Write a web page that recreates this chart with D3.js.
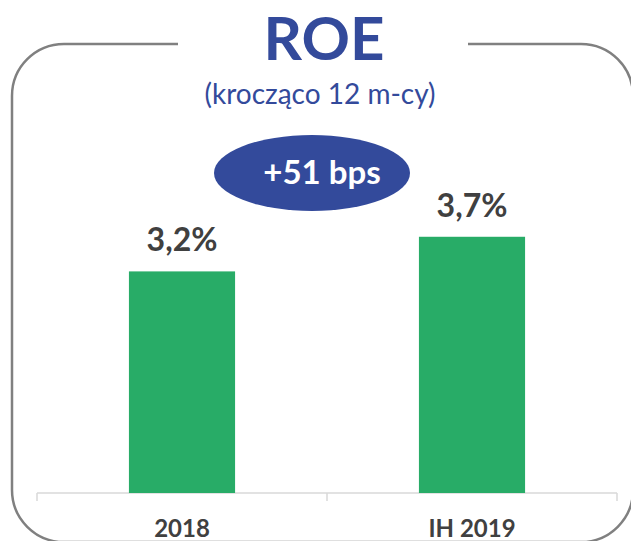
<!DOCTYPE html>
<html>
<head>
<meta charset="utf-8">
<script src="https://cdn.jsdelivr.net/npm/d3@7.9.0/dist/d3.min.js"></script>
<style>
  body { margin: 0; background: #fff; }
  svg { display: block; font-family: Lato, "Open Sans", sans-serif; }
</style>
</head>
<body>
<svg id="chart" width="631" height="541"></svg>
<script>
const categories = ["2018", "IH 2019"];
const values = [3.2, 3.7];
const valueLabels = ["3,2%", "3,7%"];
const title = "ROE";
const subtitle = "(krocząco 12 m-cy)";
const badge = "+51 bps";

const svg = d3.select("#chart");
const blue = "#334a9b";

// frame with a gap for the title
const fx0 = 12, fx1 = 633, fy0 = 44, fy1 = 542, r = 52;
const gapL = 178, gapR = 468;
const framePath = `M${gapL},${fy0} L${fx0 + r},${fy0} A${r},${r} 0 0 0 ${fx0},${fy0 + r}
  L${fx0},${fy1 - r} A${r},${r} 0 0 0 ${fx0 + r},${fy1} L${fx1 - r},${fy1}
  A${r},${r} 0 0 0 ${fx1},${fy1 - r} L${fx1},${fy0 + r} A${r},${r} 0 0 0 ${fx1 - r},${fy0} L${gapR},${fy0}`;
svg.append("path")
  .attr("d", framePath)
  .attr("fill", "none")
  .attr("stroke", "#808080")
  .attr("stroke-width", 2.5);

svg.append("text")
  .attr("x", 324).attr("y", 60)
  .attr("text-anchor", "middle")
  .attr("font-weight", "bold")
  .attr("font-size", 60)
  .attr("fill", blue)
  .text(title);

svg.append("text")
  .attr("x", 320).attr("y", 104)
  .attr("text-anchor", "middle")
  .attr("font-size", 28)
  .attr("fill", blue)
  .text(subtitle);

// scales
const x = d3.scaleBand()
  .domain(categories)
  .range([37, 617])
  .paddingInner(0.634)
  .paddingOuter(0.317);

const y = d3.scaleLinear()
  .domain([0, 4])
  .range([493, 216]);

// axis line and ticks at band edges
svg.append("line")
  .attr("x1", 37).attr("x2", 617)
  .attr("y1", 493).attr("y2", 493)
  .attr("stroke", "#d9d9d9").attr("stroke-width", 1.5);
const edges = [x.range()[0], (x.range()[0] + x.range()[1]) / 2, x.range()[1]];
svg.selectAll(".tick-mark")
  .data(edges)
  .enter().append("line")
  .attr("class", "tick-mark")
  .attr("x1", d => d).attr("x2", d => d)
  .attr("y1", 493).attr("y2", 501)
  .attr("stroke", "#d9d9d9").attr("stroke-width", 1.5);

// bars
svg.selectAll(".bar")
  .data(values)
  .enter().append("rect")
  .attr("class", "bar")
  .attr("x", (d, i) => x(categories[i]))
  .attr("y", d => y(d))
  .attr("width", x.bandwidth())
  .attr("height", d => y(0) - y(d))
  .attr("fill", "#28ac67");

// value labels
svg.selectAll(".value")
  .data(values)
  .enter().append("text")
  .attr("class", "value")
  .attr("x", (d, i) => x(categories[i]) + x.bandwidth() / 2)
  .attr("y", d => y(d) - 20)
  .attr("text-anchor", "middle")
  .attr("font-weight", "bold")
  .attr("font-size", 32)
  .attr("fill", "#404040")
  .text((d, i) => valueLabels[i]);

// category labels
svg.selectAll(".cat")
  .data(categories)
  .enter().append("text")
  .attr("class", "cat")
  .attr("x", d => x(d) + x.bandwidth() / 2)
  .attr("y", 537)
  .attr("text-anchor", "middle")
  .attr("font-weight", "bold")
  .attr("font-size", 24)
  .attr("fill", "#404040")
  .text(d => d);

// badge
svg.append("ellipse")
  .attr("cx", 312).attr("cy", 173)
  .attr("rx", 98).attr("ry", 38)
  .attr("fill", blue);
svg.append("text")
  .attr("x", 322).attr("y", 184)
  .attr("text-anchor", "middle")
  .attr("font-weight", "bold")
  .attr("font-size", 33)
  .attr("fill", "#fff")
  .text(badge);
</script>
</body>
</html>
